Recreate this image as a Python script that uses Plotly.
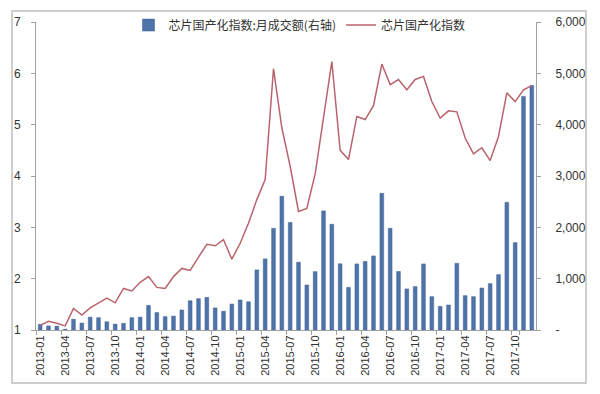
import plotly.graph_objects as go

months = [
    "2013-01", "2013-02", "2013-03", "2013-04", "2013-05", "2013-06", "2013-07", "2013-08", "2013-09", "2013-10", "2013-11", "2013-12",
    "2014-01", "2014-02", "2014-03", "2014-04", "2014-05", "2014-06", "2014-07", "2014-08", "2014-09", "2014-10", "2014-11", "2014-12",
    "2015-01", "2015-02", "2015-03", "2015-04", "2015-05", "2015-06", "2015-07", "2015-08", "2015-09", "2015-10", "2015-11", "2015-12",
    "2016-01", "2016-02", "2016-03", "2016-04", "2016-05", "2016-06", "2016-07", "2016-08", "2016-09", "2016-10", "2016-11", "2016-12",
    "2017-01", "2017-02", "2017-03", "2017-04", "2017-05", "2017-06", "2017-07", "2017-08", "2017-09", "2017-10", "2017-11", "2017-12",
]

monthly_turnover = [
    110, 80, 75, 15, 210, 135, 250, 240, 160, 115, 130, 240,
    250, 480, 340, 260, 270, 390, 570, 610, 635, 430, 365, 505,
    585, 550, 1170, 1385, 1980, 2605, 2095, 1320, 877, 1137, 2320, 2060,
    1290, 830, 1287, 1335, 1443, 2663, 1982, 1140, 800, 845, 1287, 650,
    460, 487, 1299, 669, 649, 818, 903, 1078, 2487, 1701, 4550, 4765,
]

index_values = [
    1.09, 1.17, 1.13, 1.08, 1.42, 1.29, 1.43, 1.52, 1.62, 1.53, 1.81, 1.76,
    1.93, 2.04, 1.83, 1.81, 2.04, 2.20, 2.16, 2.42, 2.67, 2.64, 2.76, 2.38,
    2.69, 3.08, 3.54, 3.93, 6.09, 4.94, 4.19, 3.31, 3.37, 4.04, 5.13, 6.23,
    4.50, 4.32, 5.16, 5.10, 5.37, 6.18, 5.78, 5.88, 5.68, 5.88, 5.94, 5.45,
    5.13, 5.27, 5.25, 4.74, 4.43, 4.55, 4.30, 4.77, 5.62, 5.45, 5.68, 5.76,
]

x_tick_labels = months[::3]
left_ticks = [1, 2, 3, 4, 5, 6, 7]
right_tickvals = [0, 1000, 2000, 3000, 4000, 5000, 6000]
right_ticktext = ["-", "1,000", "2,000", "3,000", "4,000", "5,000", "6,000"]

bar_name = "芯片国产化指数:月成交额(右轴)"
line_name = "芯片国产化指数"

FONT = "Liberation Sans, Arial, Noto Sans CJK SC, sans-serif"
CJK = "Noto Sans CJK SC, sans-serif"

fig = go.Figure()
fig.add_trace(go.Bar(
    x=months, y=monthly_turnover, name=bar_name, yaxis="y",
    marker=dict(color="#4F74AA", line=dict(color="#3D5F90", width=0.5)),
))
fig.add_trace(go.Scatter(
    x=months, y=index_values, name=line_name, yaxis="y2", mode="lines",
    line=dict(color="#B9646D", width=1.5),
))

axis_color = "#A0A0A0"
fig.update_layout(
    width=600, height=394,
    margin=dict(l=36, r=64, t=22, b=64, autoexpand=False),
    paper_bgcolor="white", plot_bgcolor="white",
    bargap=0.55,
    showlegend=True,
    legend=dict(
        orientation="h", x=0.185, y=0.99, xanchor="left", yanchor="middle",
        font=dict(family=CJK, size=12, color="#333333"),
        bgcolor="rgba(0,0,0,0)", traceorder="normal",
        itemwidth=30,
    ),
    xaxis=dict(
        type="category", tickmode="array", tickvals=x_tick_labels, ticktext=x_tick_labels,
        tickangle=-90, tickson="boundaries", ticks="outside", ticklen=4, tickcolor=axis_color,
        showline=True, linecolor=axis_color, linewidth=1, showgrid=False,
        tickfont=dict(family=FONT, size=11, color="#333333"),
        range=[-0.5, 59.5],
    ),
    yaxis=dict(
        side="right", range=[0, 6000], tickvals=right_tickvals, ticktext=right_ticktext,
        ticks="outside", ticklen=4, tickcolor=axis_color,
        showline=True, linecolor=axis_color, linewidth=1, showgrid=False, zeroline=False,
        tickfont=dict(family=FONT, size=12, color="#333333"),
        ticklabelstandoff=12,
    ),
    yaxis2=dict(
        side="left", overlaying="y", range=[1, 7], tickvals=left_ticks,
        ticks="outside", ticklen=4, tickcolor=axis_color,
        showline=True, linecolor=axis_color, linewidth=1, showgrid=False, zeroline=False,
        tickfont=dict(family=FONT, size=12, color="#333333"),
        ticklabelstandoff=8,
    ),
    shapes=[dict(
        type="rect", xref="paper", yref="paper",
        x0=-0.048, x1=1.1, y0=-0.172, y1=1.036,
        line=dict(color="#BFBFBF", width=1.5), fillcolor="rgba(0,0,0,0)", layer="below",
    )],
)

fig.write_html(
    "out.html",
    config={"displayModeBar": False},
    post_script="document.body.style.margin='0';document.body.style.padding='0';",
)
